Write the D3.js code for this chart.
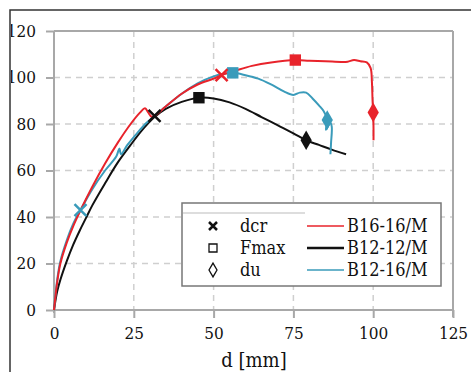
<!DOCTYPE html>
<html>
<head>
<meta charset="utf-8">
<style>
  body { margin: 0; background: #fff; }
  svg { display: block; }
</style>
<script src="https://d3js.org/d3.v7.min.js"></script>
</head>
<body>
<svg width="471" height="372"></svg>
<script>
// series values, [d (mm), F]
var b1616 = [[0,0],[1,12],[2,20],[4,29],[6,36],[8,42],[12,53],[16,63],[20,72],[24,80],[27,85],[28.5,86.8],[29.5,85],[30.5,83.2],[31.5,83.5],
  [35,87.5],[40,93],[45,97],[50,99.5],[52.5,101],[57,103],[62,105],[68,106.5],[75.6,107.5],[80,107.2],[85,107],[90,106.7],
  [92,106.8],[94,107.5],[96,107],[98,106.5],[99.2,104],[99.6,98],[99.8,90],[100,85],[100.1,78],[100.1,73]];
var b1212 = [[0,0],[1,8],[2,13],[4,21],[6,28],[8,34],[10,39.5],[12,45],[16,54.5],[20,63.5],[24,71],[28,78],[31.5,83],
  [35,86.5],[40,89.5],[45.4,91.3],[50,91],[55,89.3],[60,86.5],[65,83],[70,79.5],[75,76],[79,73],[83,71],[87,69],[91.5,67]];
var b1216 = [[0,0],[1,13],[2,21],[4,30],[6,37],[8.3,43],[12,52],[16,60],[19.5,66],[20.5,69.5],[21,67],[23,71],[26,76],
  [29,80.5],[31.5,83.5],[35,87.5],[40,93],[45,97.5],[50,100.5],[53,101.5],[56,102],[60,101],[64,99.5],[68,97],[72,94],
  [75,92.5],[77,93.5],[79,93.5],[81,91],[83,88],[84.5,85.5],[85.6,82],[85.2,77.5],[86.5,80.5],[87,79],[86.8,72],[86.6,67]];

var seriesNames = ["B16-16/M", "B12-12/M", "B12-16/M"];
var seriesColors = ["#e8232b", "#111111", "#3a9bba"];
var seriesData = [b1616, b1212, b1216];

// markers per series: dcr, Fmax, du
var dcrPts = [[52.5,101], [31.5,83.5], [8.3,43]];
var fmaxPts = [[75.6,107.5], [45.4,91.3], [56,102]];
var duPts = [[100,85], [79,73], [85.6,81.7]];
var markerNames = ["dcr", "Fmax", "du"];

var xTicks = [0, 25, 50, 75, 100, 125];
var yTicks = [0, 20, 40, 60, 80, 100, 120];

var svg = d3.select("svg");
var serif = '"DejaVu Serif Condensed", "DejaVu Serif", serif';

var x = d3.scaleLinear().domain([0, 125]).range([54, 453]);
var y = d3.scaleLinear().domain([0, 120]).range([310, 31]);

svg.append("clipPath").attr("id", "frameclip")
  .append("rect").attr("x", 11).attr("y", 11).attr("width", 460).attr("height", 361);

var root = svg.append("g").attr("clip-path", "url(#frameclip)");

// grid
root.append("g").selectAll("line").data(yTicks.filter(function(d) { return d > 0 && d < 120; }))
  .enter().append("line")
  .attr("x1", x(0)).attr("x2", x(125))
  .attr("y1", function(d) { return y(d); }).attr("y2", function(d) { return y(d); })
  .attr("stroke", "#cfcfcf").attr("stroke-width", 1.5).attr("stroke-dasharray", "6,5");
root.append("g").selectAll("line").data(xTicks.filter(function(d) { return d > 0 && d < 125; }))
  .enter().append("line")
  .attr("y1", y(120)).attr("y2", y(0))
  .attr("x1", function(d) { return x(d); }).attr("x2", function(d) { return x(d); })
  .attr("stroke", "#cfcfcf").attr("stroke-width", 1.5).attr("stroke-dasharray", "6,5");

// plot frame
root.append("line").attr("x1", x(0)).attr("x2", x(125)).attr("y1", y(120)).attr("y2", y(120))
  .attr("stroke", "#a8a8a8").attr("stroke-width", 2);
root.append("line").attr("x1", x(125)).attr("x2", x(125)).attr("y1", y(120)).attr("y2", 317)
  .attr("stroke", "#a8a8a8").attr("stroke-width", 2);

// axes
var yAxis = root.append("g").attr("transform", "translate(" + x(0) + ",0)")
  .call(d3.axisLeft(y).tickValues(yTicks).tickSize(8).tickPadding(10));
var xAxis = root.append("g").attr("transform", "translate(0," + y(0) + ")")
  .call(d3.axisBottom(x).tickValues(xTicks).tickSize(8).tickPadding(9));
[yAxis, xAxis].forEach(function(a) {
  a.attr("font-family", serif).attr("font-size", 17);
  a.select(".domain").attr("stroke", "#a8a8a8").attr("stroke-width", 2);
  a.selectAll(".tick line").attr("stroke", "#a8a8a8").attr("stroke-width", 2);
  a.selectAll(".tick text").attr("fill", "#111");
});
yAxis.select(".domain").attr("d", "M0," + y(120) + "V313");
xAxis.select(".domain").attr("d", "M" + x(0) + ",0H" + x(125));

root.append("text").attr("x", 254).attr("y", 367).attr("text-anchor", "middle")
  .attr("font-family", serif).attr("font-size", 20).attr("fill", "#111").text("d [mm]");

// series
var line = d3.line().x(function(d) { return x(d[0]); }).y(function(d) { return y(d[1]); })
  .curve(d3.curveCatmullRom.alpha(0.5));
var order = [1, 2, 0];
order.forEach(function(i) {
  root.append("path").datum(seriesData[i]).attr("d", line)
    .attr("fill", "none").attr("stroke", seriesColors[i]).attr("stroke-width", 2)
    .attr("stroke-linejoin", "round");
});

function crossPath(s) { return "M" + (-s) + "," + (-s) + "L" + s + "," + s + "M" + (-s) + "," + s + "L" + s + "," + (-s); }
var sq = d3.symbol().type(d3.symbolSquare).size(130);
var dm = d3.symbol().type(d3.symbolDiamond).size(110);

order.forEach(function(i) {
  var c = seriesColors[i];
  root.append("path").attr("d", crossPath(6))
    .attr("transform", "translate(" + x(dcrPts[i][0]) + "," + y(dcrPts[i][1]) + ")")
    .attr("stroke", c).attr("stroke-width", 2.5).attr("fill", "none");
  root.append("path").attr("d", sq)
    .attr("transform", "translate(" + x(fmaxPts[i][0]) + "," + y(fmaxPts[i][1]) + ")")
    .attr("fill", c);
  root.append("path").attr("d", dm)
    .attr("transform", "translate(" + x(duPts[i][0]) + "," + y(duPts[i][1]) + ")")
    .attr("fill", c);
});

// legend
var lg = root.append("g").attr("font-family", serif).attr("font-size", 18).attr("fill", "#111");
lg.append("rect").attr("x", 182).attr("y", 203).attr("width", 259).attr("height", 83)
  .attr("fill", "#fff").attr("stroke", "#777").attr("stroke-width", 1.5);
lg.append("line").attr("x1", 183).attr("x2", 305).attr("y1", 213).attr("y2", 213)
  .attr("stroke", "#bbb").attr("stroke-width", 1);
var rowY = [226, 248, 270];
lg.append("path").attr("d", crossPath(4)).attr("transform", "translate(213," + rowY[0] + ")")
  .attr("stroke", "#111").attr("stroke-width", 2.5);
lg.append("path").attr("d", d3.symbol().type(d3.symbolSquare).size(64))
  .attr("transform", "translate(213," + rowY[1] + ")")
  .attr("fill", "none").attr("stroke", "#111").attr("stroke-width", 1.3);
lg.append("path").attr("d", d3.symbol().type(d3.symbolDiamond).size(55))
  .attr("transform", "translate(213," + rowY[2] + ")")
  .attr("fill", "none").attr("stroke", "#111").attr("stroke-width", 1.3);
markerNames.forEach(function(n, k) {
  lg.append("text").attr("x", 240).attr("y", rowY[k] + 6).text(n);
});
seriesNames.forEach(function(n, k) {
  lg.append("line").attr("x1", 307).attr("x2", 344).attr("y1", rowY[k]).attr("y2", rowY[k])
    .attr("stroke", seriesColors[k]).attr("stroke-width", k === 1 ? 2.5 : 1.5);
  lg.append("text").attr("x", 347).attr("y", rowY[k] + 6).text(n);
});

// outer frame
svg.append("path").attr("d", "M10,372V10H471").attr("fill", "none")
  .attr("stroke", "#333").attr("stroke-width", 1.5);
</script>
</body>
</html>
